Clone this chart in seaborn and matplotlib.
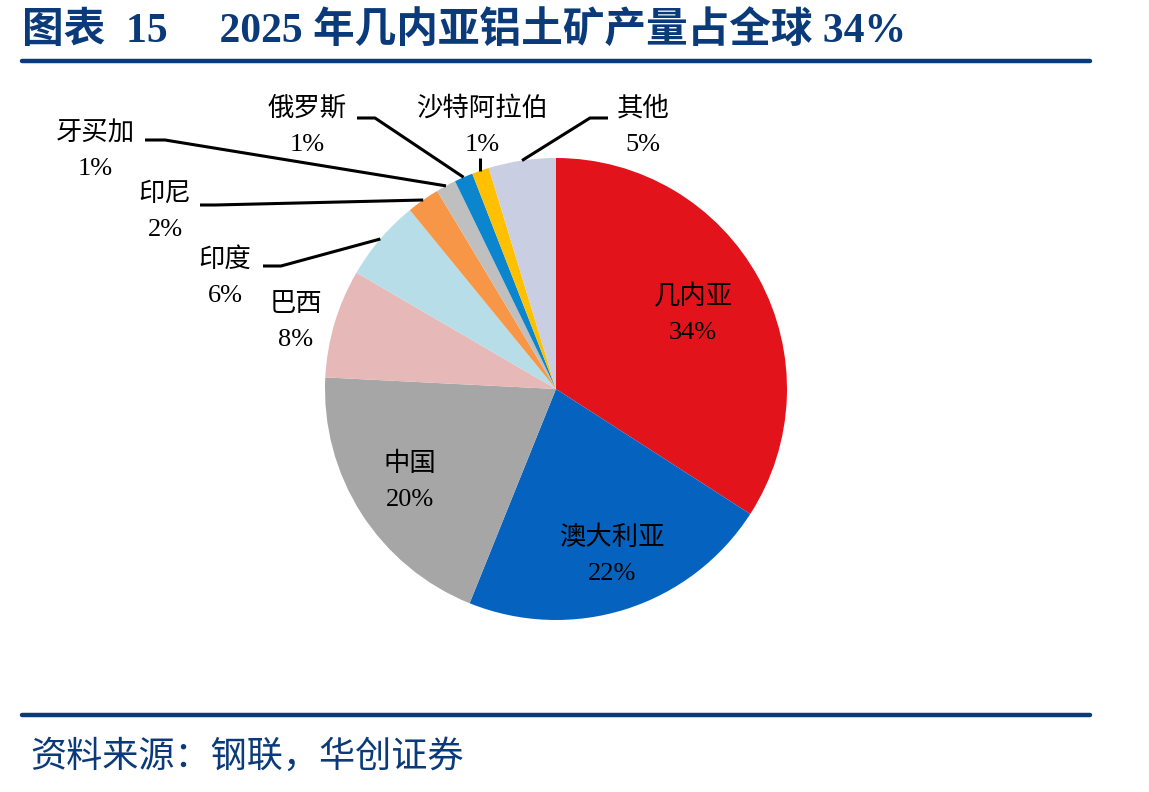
import matplotlib
matplotlib.use("Agg")
import matplotlib.pyplot as plt
import seaborn as sns
import numpy as np

# data (share of 2025 global bauxite output, %)
countries = ["几内亚", "澳大利亚", "中国", "巴西", "印度", "印尼", "牙买加", "俄罗斯", "沙特阿拉伯", "其他"]
shares = [34.1, 22.0, 19.7, 7.6, 5.7, 2.3, 1.4, 1.3, 1.2, 4.7]
slice_colors = ["#E3131B", "#0563BF", "#A6A6A6", "#E6B9B8", "#B7DDE8",
                "#F79646", "#BFBFBF", "#0A85CE", "#FFC000", "#C9CEE3"]

title = "图表  15     2025 年几内亚铝土矿产量占全球 34%"
source = "资料来源：钢联，华创证券"

W, H = 1149, 792
NAVY = "#0B3A7A"

sns.set_theme(style="white")
plt.rcParams['font.family'] = ['Liberation Serif', 'Noto Sans CJK SC']

fig = plt.figure(figsize=(W / 100, H / 100), dpi=100)
ax = fig.add_axes([0, 0, 1, 1])

cx, cy, r = 556, H - 389, 231
wedges, _ = ax.pie(shares, colors=sns.color_palette(slice_colors), startangle=90,
                   counterclock=False, center=(cx, cy), radius=r,
                   wedgeprops=dict(linewidth=0))
ax.set_xlim(0, W)
ax.set_ylim(0, H)
ax.set_aspect('equal')
ax.axis('off')

# label block centres (image px) and leader start/knee (None = inside label)
label_pos = [(693, 314), (612, 555), (410, 481), (296, 322), (225, 277),
             (165, 212), (95, 151), (307, 126), (482, 126), (643, 126)]
leaders = [None, None, None, None,
           [(263, 266), (281, 266)],
           [(200, 205), (215, 205)],
           [(145, 140), (165, 140)],
           [(357, 118), (375, 118)],
           "vertical",
           [(608, 118), (590, 118)]]

for w, name, val, pos, ld in zip(wedges, countries, shares, label_pos, leaders):
    ax.text(pos[0], H - pos[1], f"{name}\n{val:.0f}%", ha="center", va="center",
            fontsize=19, color="black", linespacing=1.75)
    if ld is None:
        continue
    mid = np.deg2rad((w.theta1 + w.theta2) / 2)
    ex, ey = cx + r * np.cos(mid), cy + r * np.sin(mid)
    if ld == "vertical":
        xs, ys = [ex, ex], [H - 158, ey]
    else:
        xs = [ld[0][0], ld[1][0], ex]
        ys = [H - ld[0][1], H - ld[1][1], ey]
    ax.plot(xs, ys, color="black", lw=2.2, solid_capstyle="butt")

# header / footer
fig.text(22 / W, 1 - 31 / H, title, fontsize=30, fontweight="bold", color=NAVY,
         ha="left", va="center")
ax.plot([22, 1090], [H - 61, H - 61], color=NAVY, lw=3.2)
ax.plot([22, 1090], [H - 715, H - 715], color=NAVY, lw=3.2)
fig.text(30 / W, 1 - 757 / H, source, fontsize=26, color=NAVY, style="italic",
         ha="left", va="center")

fig.savefig("out.png", dpi=100)
